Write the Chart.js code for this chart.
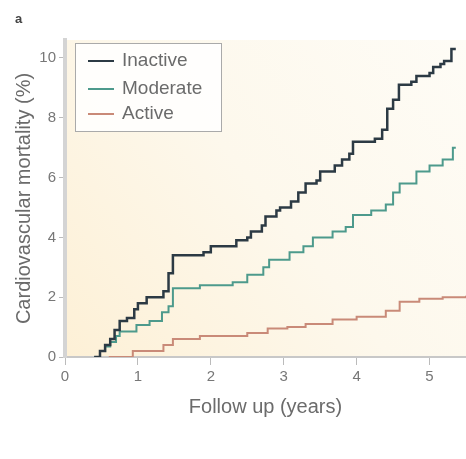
<!DOCTYPE html>
<html>
<head>
<meta charset="utf-8">
<style>
body {
	margin: 0;
	background: linear-gradient(to right, #0c1888, #1b2fa0);
	font-family: "Liberation Sans", Arial;
}

.panel {
	position: absolute;
	left: 10px;
	top: 10px;
	width: 456px;
	height: 449px;
	background: #fff;
}

.tag {
	position: absolute;
	left: 5px;
	top: 1px;
	font-size: 13px;
	font-weight: bold;
	color: #444;
}

.legend {
	position: absolute;
	left: 65px;
	top: 33px;
	width: 145px;
	height: 87px;
	border: 1px solid #aaa;
	background: rgba(255, 255, 255, 0.85);
	font-size: 19px;
	color: #6b6b6b;
}

.legend div {
	position: absolute;
	left: 12px;
	height: 22px;
	line-height: 22px;
	white-space: nowrap;
}

.legend span {
	display: inline-block;
	width: 26px;
	height: 2px;
	vertical-align: middle;
	margin-right: 8px;
}
</style>
<title>Cardiovascular mortality</title>
<script src="https://cdn.jsdelivr.net/npm/chart.js@4/dist/chart.umd.min.js"></script>
</head>

<body>
	<div class="panel">
		<canvas id="myChart" width="456" height="449"></canvas>
		<div class="tag">a</div>
		<div class="legend">
			<div style="top: 5px"><span style="background: #2c3a44"></span>Inactive</div>
			<div style="top: 33px"><span style="background: #4d9a8c"></span>Moderate</div>
			<div style="top: 58px"><span style="background: #c98a78"></span>Active</div>
		</div>
	</div>

	<script>
		var xTicks = [0, 1, 2, 3, 4, 5];
		var yTicks = [0, 2, 4, 6, 8, 10];

		var inactiveX = [0.40, 0.48, 0.55, 0.62, 0.68, 0.75, 0.85, 0.95, 1.00, 1.12, 1.30, 1.35, 1.42, 1.48, 1.90, 2.00, 2.30, 2.35, 2.50, 2.55, 2.70, 2.75, 2.90, 2.95, 3.10, 3.20, 3.30, 3.45, 3.50, 3.70, 3.80, 3.90, 3.95, 4.25, 4.35, 4.42, 4.50, 4.58, 4.75, 4.82, 5.00, 5.05, 5.15, 5.20, 5.30, 5.36];
		var inactiveY = [0.0, 0.2, 0.4, 0.6, 0.9, 1.2, 1.3, 1.6, 1.8, 2.0, 2.0, 2.2, 2.8, 3.4, 3.5, 3.7, 3.7, 3.9, 4.0, 4.2, 4.4, 4.7, 4.9, 5.0, 5.2, 5.5, 5.8, 5.9, 6.2, 6.4, 6.6, 6.8, 7.2, 7.3, 7.6, 8.3, 8.6, 9.1, 9.2, 9.4, 9.5, 9.7, 9.8, 9.9, 10.3, 10.3];

		var moderateX = [0.40, 0.48, 0.55, 0.62, 0.70, 0.75, 0.98, 1.16, 1.33, 1.42, 1.48, 1.85, 2.30, 2.50, 2.72, 2.80, 3.08, 3.27, 3.40, 3.67, 3.85, 3.95, 4.20, 4.40, 4.50, 4.59, 4.82, 5.00, 5.18, 5.32, 5.36];
		var moderateY = [0.0, 0.2, 0.35, 0.5, 0.7, 0.85, 1.07, 1.2, 1.5, 1.7, 2.3, 2.4, 2.5, 2.75, 3.0, 3.25, 3.5, 3.7, 4.0, 4.2, 4.35, 4.75, 4.9, 5.1, 5.5, 5.8, 6.2, 6.4, 6.6, 7.0, 7.0];

		var activeX = [0.60, 0.93, 1.35, 1.48, 1.85, 2.50, 2.78, 3.05, 3.30, 3.67, 4.00, 4.40, 4.59, 4.86, 5.18, 5.50];
		var activeY = [0.0, 0.2, 0.4, 0.6, 0.7, 0.8, 0.95, 1.0, 1.1, 1.25, 1.35, 1.55, 1.85, 1.95, 2.0, 2.05];

		function toPoints(xs, ys) {
			var pts = [];
			for (var i = 0; i < xs.length; i++) {
				pts.push({ x : xs[i], y : ys[i] });
			}
			return pts;
		}

		// cream wash behind the curves
		var areaBg = {
			id : 'areaBg',
			beforeDraw : function(chart) {
				var a = chart.chartArea;
				var c = chart.ctx;
				var g = c.createLinearGradient(a.left, a.bottom, a.right, a.top);
				g.addColorStop(0, '#fdf0d6');
				g.addColorStop(0.5, '#fdf8ec');
				g.addColorStop(1, '#fefcf6');
				c.save();
				c.fillStyle = g;
				c.fillRect(a.left, a.top, a.right - a.left, a.bottom - a.top);
				c.restore();
			}
		};

		var ctx = document.getElementById("myChart");
		var myChart = new Chart(ctx, {
			type : 'line',
			data : {
				datasets : [ {
					label : "Inactive",
					data : toPoints(inactiveX, inactiveY),
					borderColor : "#2c3a44",
					borderWidth : 2.5,
					stepped : true,
					pointRadius : 0,
					fill : false
				}, {
					label : "Moderate",
					data : toPoints(moderateX, moderateY),
					borderColor : "#4d9a8c",
					borderWidth : 2,
					stepped : true,
					pointRadius : 0,
					fill : false
				}, {
					label : "Active",
					data : toPoints(activeX, activeY),
					borderColor : "#c98a78",
					borderWidth : 2,
					stepped : true,
					pointRadius : 0,
					fill : false
				} ]
			},
			options : {
				responsive : false,
				animation : false,
				layout : {
					padding : { top : 30, right : 0, left : 0, bottom : 40 }
				},
				plugins : {
					legend : { display : false },
					tooltip : { enabled : false }
				},
				scales : {
					x : {
						type : 'linear',
						min : 0,
						max : 5.5,
						afterBuildTicks : function(axis) {
							axis.ticks = xTicks.map(function(v) { return { value : v }; });
						},
						grid : {
							display : true,
							drawOnChartArea : false,
							drawTicks : true,
							tickLength : 8,
							color : '#bbb'
						},
						border : { color : '#c8c8c8', width : 2 },
						ticks : { color : '#777', font : { size : 15 }, padding : 3 },
						title : {
							display : true,
							text : 'Follow up (years)',
							color : '#6b6b6b',
							font : { size : 20 },
							padding : { top : 6, bottom : 0 }
						}
					},
					y : {
						min : 0,
						max : 10.6,
						afterBuildTicks : function(axis) {
							axis.ticks = yTicks.map(function(v) { return { value : v }; });
						},
						afterFit : function(axis) {
							axis.width = 55;
						},
						grid : {
							display : true,
							drawOnChartArea : false,
							drawTicks : true,
							tickLength : 6,
							color : '#bbb'
						},
						border : { color : '#d4d4d4', width : 4 },
						ticks : { color : '#777', font : { size : 15 }, padding : 3 },
						title : {
							display : true,
							text : 'Cardiovascular mortality (%)',
							color : '#6b6b6b',
							font : { size : 20 },
							padding : { top : 2, bottom : 4 }
						}
					}
				}
			},
			plugins : [ areaBg ]
		});
	</script>
</body>
</html>
